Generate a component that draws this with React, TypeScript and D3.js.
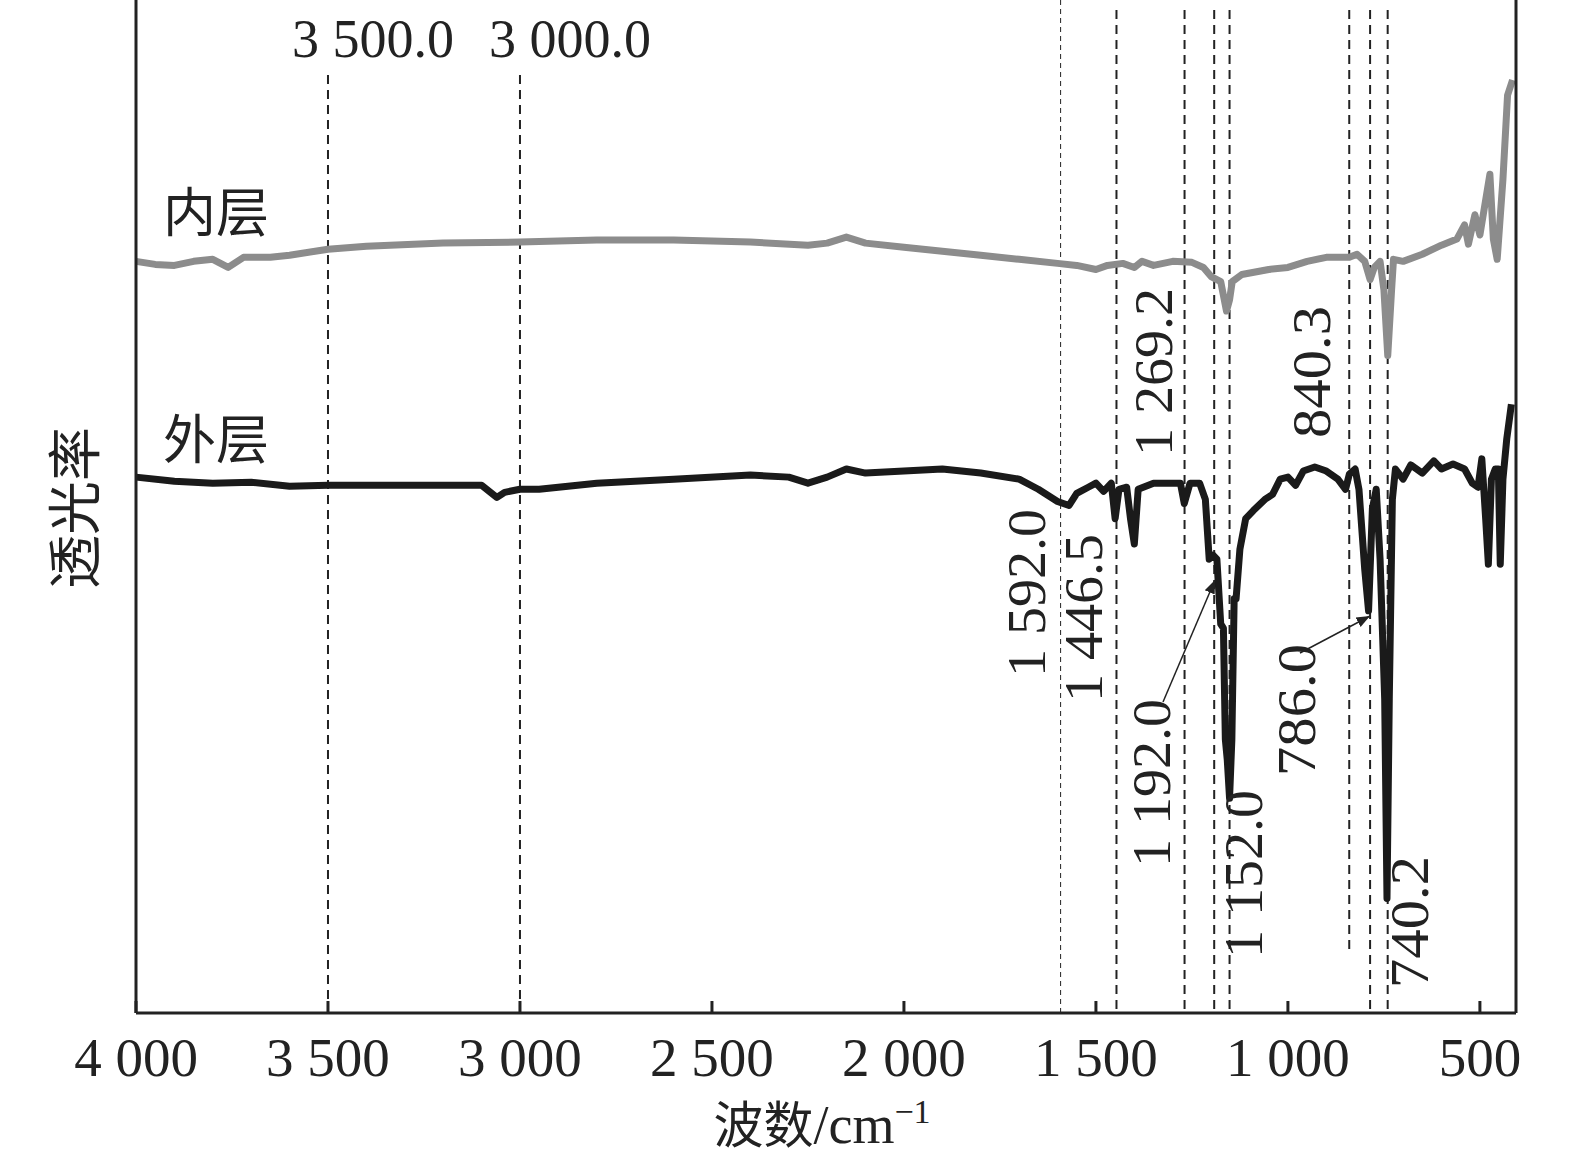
import React from "react";
import * as d3 from "d3";

const innerWn = [4000,3950,3900,3850,3800,3760,3720,3650,3600,3500,3400,3200,3000,2800,2600,2400,2250,2200,2150,2100,2000,1900,1800,1700,1600,1550,1500,1470,1430,1400,1380,1350,1300,1250,1220,1200,1175,1160,1152,1145,1120,1050,1000,950,900,840,820,800,786,775,760,750,740,730,725,700,650,600,560,540,530,513,500,474,465,455,440,428,415];
const innerT = [74.2,73.9,73.8,74.2,74.4,73.6,74.6,74.6,74.8,75.4,75.7,76.0,76.1,76.3,76.3,76.1,75.8,76.0,76.6,76.0,75.6,75.2,74.8,74.4,74.0,73.8,73.4,73.8,74.0,73.6,74.2,73.8,74.2,74.1,73.6,72.7,72.2,69.3,70.4,72.2,72.9,73.4,73.6,74.2,74.6,74.6,74.9,74.2,72.4,73.6,74.2,71.4,64.9,71.4,74.4,74.2,74.9,75.8,76.4,77.8,75.9,78.8,76.8,82.8,76.4,74.4,82.3,90.6,92.1];
const outerWn = [4000,3900,3800,3700,3600,3500,3200,3100,3060,3040,3000,2950,2900,2800,2600,2400,2300,2250,2200,2150,2100,2000,1900,1800,1700,1650,1600,1570,1550,1520,1500,1480,1460,1450,1440,1420,1410,1400,1390,1350,1300,1280,1270,1255,1230,1215,1205,1195,1185,1175,1168,1163,1158,1152,1146,1140,1135,1125,1110,1090,1060,1040,1020,1000,980,960,930,900,870,850,840,825,815,800,790,780,770,760,748,742,736,728,720,700,680,650,620,600,570,540,520,505,495,485,478,470,460,452,447,440,430,418];
const outerT = [52.9,52.5,52.3,52.4,52.0,52.1,52.1,52.1,50.9,51.4,51.7,51.7,51.9,52.3,52.7,53.1,52.9,52.3,52.9,53.7,53.3,53.5,53.7,53.3,52.7,51.7,50.5,50.1,51.3,51.9,52.3,51.5,52.3,48.8,51.7,51.9,48.8,46.3,51.7,52.3,52.3,52.3,50.3,52.3,52.3,50.7,44.8,45.2,44.8,38.4,38.0,27.0,25.0,21.2,27.0,40.9,40.9,45.8,48.8,49.6,50.7,51.2,52.7,52.9,52.1,53.5,53.9,53.5,52.7,51.7,53.2,53.7,51.7,43.8,39.7,49.8,51.7,44.8,31.0,11.3,31.0,50.7,53.7,52.7,54.1,53.3,54.5,53.7,54.2,53.7,52.3,51.9,54.7,48.8,44.3,52.7,53.7,53.7,44.3,52.7,56.7,60.1];

const xTicks = [4000,3500,3000,2500,2000,1500,1000,500];
const tickLabels = ["4 000","3 500","3 000","2 500","2 000","1 500","1 000","500"];
const refLines = [3500,3000,1592,1446.5,1269.2,1192,1152,840.3,786,740.2];

const W = 1575, H = 1169;
const L = 136, R = 1516, T = 0, B = 1013;
const x = d3.scaleLinear().domain([4000, 406]).range([L, R]);
const y = d3.scaleLinear().domain([0, 100]).range([B, T]);
const serif = "'Liberation Serif', 'DejaVu Serif', serif";
const cjk = "'Noto Sans CJK SC', sans-serif";

export default function App() {
  const mk = (wn: number[], t: number[]) =>
    d3.line<number>().x((d) => x(d)).y((_, i) => y(t[i]))(wn) || "";
  const rot = (label: string, cx: number, yb: number, key: string) => (
    <text key={key} transform={`translate(${cx},${yb}) rotate(-90)`} fontFamily={serif} fontSize={54} fill="#222" dominantBaseline="middle" textLength={label.length > 5 ? 168 : 132} lengthAdjust="spacingAndGlyphs">{label}</text>
  );
  return (
    <svg width={W} height={H} style={{ position: "absolute", left: 0, top: 0, background: "#fff" }}>
      <defs>
        <marker id="ar" viewBox="0 0 10 10" refX="10" refY="5" markerWidth="9" markerHeight="9" orient="auto">
          <path d="M0,1 L10,5 L0,9 z" fill="#222" />
        </marker>
      </defs>
      {refLines.map((w) => {
        const thin = w === 1592;
        const top = w === 3500 || w === 3000 ? 75 : thin ? 0 : 10;
        const bot = w === 840.3 ? 950 : B;
        return <line key={w} x1={x(w)} x2={x(w)} y1={top} y2={bot} stroke="#222" strokeWidth={thin ? 1 : 2} strokeDasharray={thin ? "5,4" : "9,6"} />;
      })}
      <path d={mk(innerWn, innerT)} fill="none" stroke="#8c8c8c" strokeWidth={7} strokeLinejoin="round" />
      <path d={mk(outerWn, outerT)} fill="none" stroke="#1a1a1a" strokeWidth={7} strokeLinejoin="round" />
      <line x1={L} x2={L} y1={T} y2={B} stroke="#222" strokeWidth={3} />
      <line x1={R} x2={R} y1={T} y2={B} stroke="#222" strokeWidth={3} />
      <line x1={L} x2={R} y1={B} y2={B} stroke="#222" strokeWidth={3} />
      {xTicks.map((t, i) => (
        <g key={t}>
          <line x1={x(t)} x2={x(t)} y1={B} y2={B - 12} stroke="#222" strokeWidth={3} />
          <text x={x(t)} y={1076} textAnchor="middle" fontFamily={serif} fontSize={55} fill="#222">{tickLabels[i]}</text>
        </g>
      ))}
      <text x={822} y={1143} textAnchor="middle" fontFamily={serif} fontSize={54} fill="#222">
        <tspan fontFamily={cjk} fontSize={50}>波数</tspan>/cm<tspan dy={-20} fontSize={34}>−1</tspan>
      </text>
      <text transform="translate(80,508) rotate(-90)" textAnchor="middle" dominantBaseline="middle" fontFamily={cjk} fontSize={54} fill="#222">透光率</text>
      <text x={163} y={232} fontFamily={cjk} fontSize={53} fill="#222">内层</text>
      <text x={163} y={459} fontFamily={cjk} fontSize={53} fill="#222">外层</text>
      <text x={373} y={57} textAnchor="middle" fontFamily={serif} fontSize={54} fill="#222">3 500.0</text>
      <text x={570} y={57} textAnchor="middle" fontFamily={serif} fontSize={54} fill="#222">3 000.0</text>
      {rot("1 592.0", 1033, 677, "a")}
      {rot("1 446.5", 1090, 702, "b")}
      {rot("1 269.2", 1160, 456, "c")}
      {rot("1 192.0", 1158, 867, "d")}
      {rot("1 152.0", 1250, 958, "e")}
      {rot("840.3", 1318, 438, "f")}
      {rot("786.0", 1303, 776, "g")}
      {rot("740.2", 1416, 988, "h")}
      <line x1={1163} y1={702} x2={1215} y2={580} stroke="#222" strokeWidth={1.5} markerEnd="url(#ar)" />
      <line x1={1300} y1={653} x2={1370} y2={616} stroke="#222" strokeWidth={1.5} markerEnd="url(#ar)" />
    </svg>
  );
}
